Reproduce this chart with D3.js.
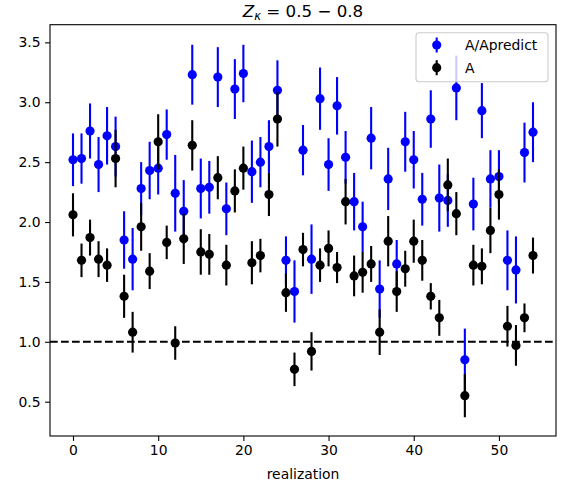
<!DOCTYPE html>
<html>
<head>
<meta charset="utf-8">
<script src="https://cdn.jsdelivr.net/npm/d3@7"></script>
<style>
  body { margin: 0; background: #fff; }
  svg { display: block; font-family: "DejaVu Sans", sans-serif; }
</style>
</head>
<body>
<svg id="chart" width="561" height="486"></svg>
<script>
// A/Apredict (blue) values and errors
const ratioValues = [2.52,2.53,2.76,2.48,2.72,2.63,1.85,1.69,2.28,2.43,2.45,2.73,2.24,2.09,3.23,2.28,2.29,3.21,2.11,3.11,3.24,2.42,2.50,2.63,3.10,1.68,1.42,2.60,1.69,3.03,2.48,2.97,2.54,2.17,1.96,2.70,1.44,2.36,1.65,2.67,2.52,2.19,2.86,2.20,2.18,3.12,0.85,2.15,2.93,2.36,2.38,1.68,1.60,2.58,2.75];
const ratioErrors = [0.22,0.21,0.23,0.23,0.24,0.25,0.24,0.26,0.22,0.24,0.22,0.21,0.32,0.26,0.25,0.25,0.22,0.25,0.22,0.25,0.24,0.26,0.21,0.22,0.25,0.20,0.26,0.21,0.29,0.26,0.22,0.24,0.22,0.24,0.21,0.26,0.24,0.26,0.20,0.25,0.24,0.22,0.24,0.28,0.22,0.27,0.26,0.22,0.23,0.24,0.22,0.25,0.28,0.25,0.25];
// A (black) values and errors
const aValues = [2.06,1.68,1.87,1.69,1.64,2.53,1.38,1.08,1.96,1.59,2.67,1.83,0.99,1.86,2.64,1.75,1.73,2.37,1.64,2.26,2.45,1.66,1.72,2.23,2.86,1.41,0.77,1.77,0.92,1.64,1.78,1.62,2.17,1.55,1.58,1.65,1.08,1.84,1.42,1.61,1.84,1.68,1.38,1.20,2.31,2.07,0.55,1.64,1.63,1.93,2.23,1.13,0.97,1.20,1.72];
const aErrors = [0.18,0.14,0.15,0.15,0.14,0.24,0.18,0.17,0.20,0.15,0.23,0.14,0.14,0.21,0.21,0.19,0.17,0.18,0.17,0.18,0.18,0.18,0.14,0.18,0.23,0.16,0.14,0.14,0.16,0.14,0.15,0.13,0.19,0.17,0.17,0.15,0.19,0.21,0.17,0.15,0.18,0.17,0.11,0.15,0.22,0.18,0.18,0.17,0.15,0.19,0.21,0.17,0.17,0.12,0.15];
const realizations = d3.range(ratioValues.length);
const xTicks = [0,10,20,30,40,50];
const yTicks = [0.5,1.0,1.5,2.0,2.5,3.0,3.5];
const referenceLine = 1.0;
const seriesNames = ["A/Apredict","A"];
const seriesColors = ["#0000ff","#000000"];

const svg = d3.select("#chart");
const L = 50, R = 556, T = 24.7, B = 436;
const x = d3.scaleLinear().domain([-2.7, 56.7]).range([L, R]);
const y = d3.scaleLinear().domain([0.2135, 3.6475]).range([B, T]);

// reference dashed line
svg.append("line")
  .attr("x1", L).attr("x2", R)
  .attr("y1", y(referenceLine)).attr("y2", y(referenceLine))
  .attr("stroke", "#000").attr("stroke-width", 2)
  .attr("stroke-dasharray", "7.7,3.3");

function drawSeries(vals, errs, color) {
  const g = svg.append("g");
  g.selectAll("line").data(realizations).enter().append("line")
    .attr("x1", i => x(i)).attr("x2", i => x(i))
    .attr("y1", i => y(vals[i] - errs[i])).attr("y2", i => y(vals[i] + errs[i]))
    .attr("stroke", color).attr("stroke-width", 2.1);
  g.selectAll("circle").data(realizations).enter().append("circle")
    .attr("cx", i => x(i)).attr("cy", i => y(vals[i]))
    .attr("r", 4.6).attr("fill", color);
}
drawSeries(ratioValues, ratioErrors, seriesColors[0]);
drawSeries(aValues, aErrors, seriesColors[1]);

// frame
svg.append("rect").attr("x", L).attr("y", T).attr("width", R - L).attr("height", B - T)
  .attr("fill", "none").attr("stroke", "#000").attr("stroke-width", 1.1);

// axes
const xAxis = svg.append("g").attr("transform", `translate(0,${B})`)
  .call(d3.axisBottom(x).tickValues(xTicks).tickSize(4.9).tickPadding(4.5).tickFormat(d3.format("d")));
const yAxis = svg.append("g").attr("transform", `translate(${L},0)`)
  .call(d3.axisLeft(y).tickValues(yTicks).tickSize(4.9).tickPadding(4.5).tickFormat(d3.format(".1f")));
[xAxis, yAxis].forEach(a => {
  a.select(".domain").remove();
  a.selectAll(".tick line").attr("stroke", "#000").attr("stroke-width", 1.1);
  a.selectAll(".tick text").attr("font-family", "DejaVu Sans").attr("font-size", 13.9).attr("fill", "#000");
});

// x label
svg.append("text").attr("x", (L + R) / 2).attr("y", 479)
  .attr("text-anchor", "middle").attr("font-size", 13.9).text("realization");

// title (math text)
const title = svg.append("text").attr("x", (L + R) / 2).attr("y", 17)
  .attr("text-anchor", "middle").attr("font-size", 16.7);
title.append("tspan").attr("font-style", "italic").text("Z");
title.append("tspan").attr("font-style", "italic").attr("font-size", 11.5).attr("dy", 3).text("κ");
title.append("tspan").attr("dy", -3).text(" = 0.5 − 0.8");

// legend
const lg = svg.append("g");
lg.append("rect").attr("x", 416).attr("y", 32.7).attr("width", 132).attr("height", 49)
  .attr("rx", 3).attr("fill", "#fff").attr("fill-opacity", 0.8)
  .attr("stroke", "#cccccc").attr("stroke-width", 1.1);
seriesNames.forEach((name, k) => {
  const cy = 45 + k * 22.7;
  lg.append("line").attr("x1", 436.7).attr("x2", 436.7).attr("y1", cy - 7.5).attr("y2", cy + 7.5)
    .attr("stroke", seriesColors[k]).attr("stroke-width", 2.1);
  lg.append("circle").attr("cx", 436.7).attr("cy", cy).attr("r", 4.6).attr("fill", seriesColors[k]);
  lg.append("text").attr("x", 465).attr("y", cy + 5).attr("font-size", 13.9).text(name);
});
</script>
</body>
</html>
